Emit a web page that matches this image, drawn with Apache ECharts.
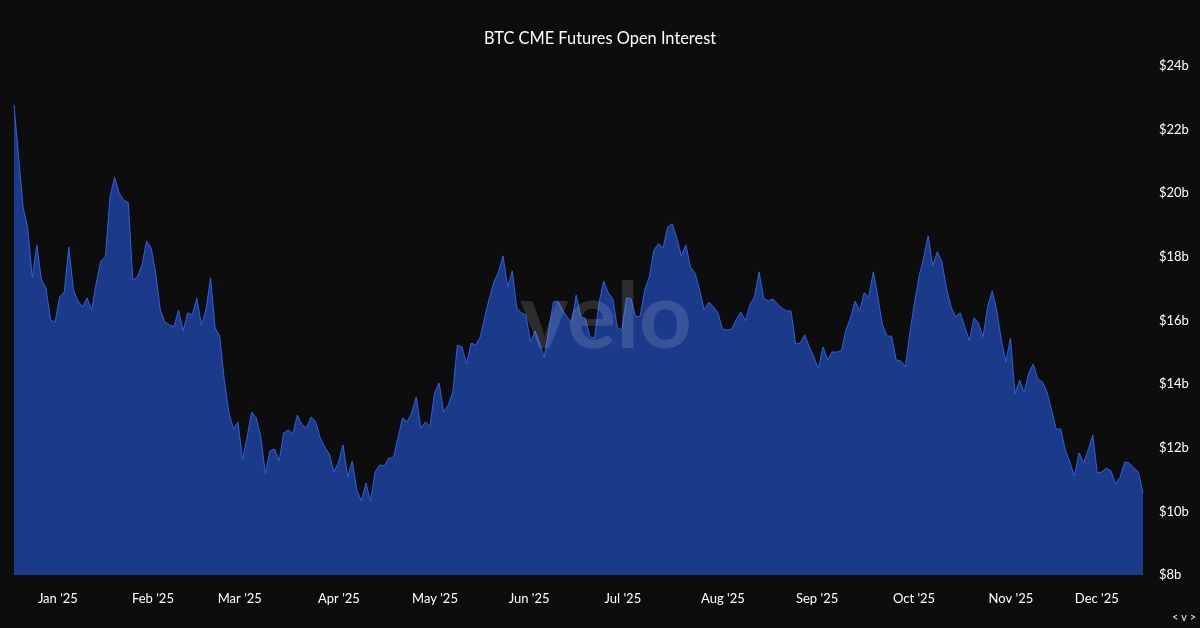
<!DOCTYPE html>
<html>
<head>
<meta charset="utf-8">
<style>html,body{margin:0;padding:0;background:#0d0d0d;}#c{width:1200px;height:628px;}</style>
<script src="https://cdn.jsdelivr.net/npm/echarts@6/dist/echarts.min.js"></script>
</head>
<body>
<div id="c"></div>
<script>
const openInterest = [
22.78,21.14,19.54,18.91,17.34,18.38,17.27,17.02,16.02,15.95,16.74,16.90,18.31,16.96,16.61,16.43,16.71,16.33,17.18,17.87,
18.00,19.88,20.51,20.01,19.79,19.70,17.27,17.37,17.75,18.50,18.28,17.49,16.33,15.95,15.86,15.80,16.33,15.67,16.24,16.17,
16.71,15.86,16.33,17.34,15.77,15.51,14.13,13.12,12.59,12.81,11.62,12.34,13.12,12.94,12.34,11.18,11.90,11.96,11.58,12.46,
12.56,12.43,13.03,12.72,12.62,12.97,12.81,12.31,12.02,11.80,11.24,11.55,12.09,11.08,11.58,10.67,10.33,10.89,10.33,11.24,
11.46,11.43,11.68,11.68,12.31,12.94,12.81,13.09,13.60,12.62,12.81,12.68,13.72,14.04,13.12,13.34,13.75,15.23,15.17,14.63,
15.29,15.23,15.48,16.11,16.71,17.21,17.53,18.03,17.05,17.56,16.39,16.24,16.17,15.33,15.67,15.29,14.85,15.70,16.58,16.61,
16.33,16.11,15.92,16.80,16.11,16.08,15.48,15.45,16.55,17.24,16.87,16.68,15.77,15.70,16.71,16.68,16.11,16.14,16.96,17.37,
18.22,18.41,18.28,18.94,19.04,18.60,18.03,18.38,17.68,17.49,16.96,16.33,16.58,16.43,16.24,15.73,15.70,15.73,16.02,16.27,
15.99,16.49,16.74,17.53,16.71,16.61,16.68,16.52,16.39,16.30,16.30,15.26,15.29,15.55,15.17,14.85,14.48,15.17,14.76,15.01,
15.01,15.04,15.70,16.08,16.61,16.30,16.87,16.74,17.53,16.74,15.86,15.51,15.51,14.76,14.73,14.54,15.61,16.55,17.37,17.97,
18.66,17.72,18.16,17.84,17.02,16.43,16.11,16.24,15.80,15.36,16.08,15.92,15.48,16.43,16.93,16.33,15.39,14.70,15.45,13.69,
14.13,13.72,14.35,14.63,14.16,14.07,13.75,13.19,12.59,12.59,11.93,11.55,11.11,11.84,11.52,11.93,12.40,11.21,11.24,11.36,
11.27,10.86,11.08,11.55,11.52,11.36,11.24,10.58
];
const monthLabels = ["Jan '25","Feb '25","Mar '25","Apr '25","May '25","Jun '25","Jul '25","Aug '25","Sep '25","Oct '25","Nov '25","Dec '25"];
const monthTicks = [9.6,30.4,49.4,71.1,92.1,112.7,133.2,155.1,175.7,196.9,218.1,236.9];
const yTicksMin = 8, yTicksMax = 24, yTickStep = 2;

const FONT = 'Lato';
const chart = echarts.init(document.getElementById('c'), null, {renderer:'canvas'});
chart.setOption({
  animation:false,
  backgroundColor:'#0d0d0d',
  title:{text:'BTC CME Futures Open Interest',left:'center',top:26,
    textStyle:{color:'#ffffff',fontFamily:FONT,fontSize:16.4,fontWeight:'normal'}},
  grid:{left:14,right:57,top:66,bottom:53},
  xAxis:{type:'value',min:0,max:openInterest.length-1,
    axisLine:{show:false},axisTick:{show:false},splitLine:{show:false},
    axisLabel:{customValues:monthTicks,color:'#ffffff',fontFamily:FONT,fontSize:13,margin:17,
      formatter:v=>monthLabels[monthTicks.indexOf(v)]}},
  yAxis:{type:'value',position:'right',min:yTicksMin,max:yTicksMax,interval:yTickStep,
    axisLine:{show:false},axisTick:{show:false},splitLine:{show:false},
    axisLabel:{color:'#ffffff',fontFamily:FONT,fontSize:13,margin:16,padding:[4,0,0,0],formatter:v=>'$'+v+'b'}},
  series:[{type:'line',data:openInterest.map((v,i)=>[i,v]),symbol:'none',smooth:false,
    lineStyle:{color:'#2f5fdc',width:1},
    areaStyle:{color:'#1c3a8a',opacity:1}}],
  graphic:[
    {type:'text',z:100,left:520,top:272,silent:true,
      style:{text:'velo',fill:'rgba(255,255,255,0.13)',font:'bold 92px '+FONT}},
    {type:'text',z:100,left:1172,top:612,silent:true,
      style:{text:'< v >',fill:'#e8e8e8',font:'11px '+FONT}}
  ]
});
</script>
</body>
</html>
